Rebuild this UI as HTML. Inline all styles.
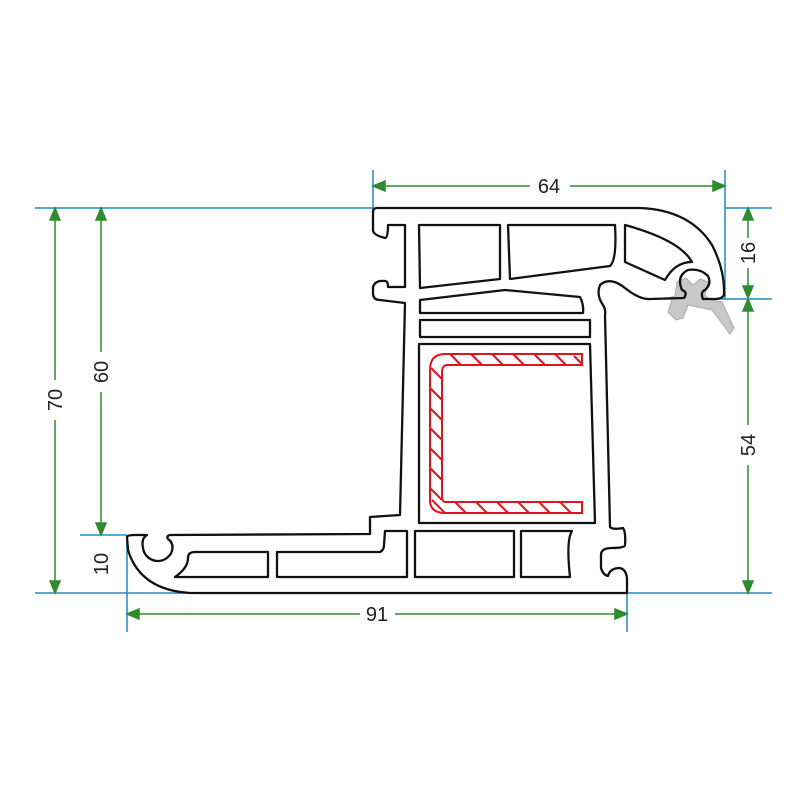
<!DOCTYPE html>
<html><head><style>body{margin:0;background:#fff}svg{display:block}text{font-family:"Liberation Sans",sans-serif;font-size:20px;fill:#222}</style></head><body>
<svg width="800" height="800" viewBox="0 0 800 800" xmlns="http://www.w3.org/2000/svg">
<g stroke="#1e8bc3" stroke-width="1.5" fill="none">
<line x1="35" y1="208" x2="373" y2="208"/><line x1="725" y1="208" x2="772" y2="208"/>
<line x1="35" y1="593" x2="190" y2="593"/><line x1="627" y1="593" x2="772" y2="593"/>
<line x1="700" y1="299" x2="772" y2="299"/><line x1="80" y1="535" x2="127" y2="535"/>
<line x1="373" y1="170" x2="373" y2="208"/><line x1="725" y1="170" x2="725" y2="300"/>
<line x1="127" y1="535" x2="127" y2="632"/><line x1="627" y1="593" x2="627" y2="632"/>
</g>
<g stroke="#2e8b2e" stroke-width="1.5" fill="#2e8b2e">
<line x1="378" y1="186" x2="530" y2="186"/><line x1="570" y1="186" x2="720" y2="186"/>
<polygon points="373,186 385,181 385,191"/><polygon points="725,186 713,181 713,191"/>
<line x1="132" y1="614" x2="360" y2="614"/><line x1="395" y1="614" x2="622" y2="614"/>
<polygon points="127,614 139,609 139,619"/><polygon points="627,614 615,609 615,619"/>
<line x1="55" y1="213" x2="55" y2="380"/><line x1="55" y1="420" x2="55" y2="588"/>
<polygon points="55,208 50,220 60,220"/><polygon points="55,593 50,581 60,581"/>
<line x1="101" y1="213" x2="101" y2="352"/><line x1="101" y1="392" x2="101" y2="530"/>
<polygon points="101,208 96,220 106,220"/><polygon points="101,535 96,523 106,523"/>
<line x1="748" y1="213" x2="748" y2="238"/><line x1="748" y1="268" x2="748" y2="293"/>
<polygon points="748,208 743,220 753,220"/><polygon points="748,298 743,286 753,286"/>
<line x1="748" y1="304" x2="748" y2="425"/><line x1="748" y1="465" x2="748" y2="588"/>
<polygon points="748,299 743,311 753,311"/><polygon points="748,593 743,581 753,581"/>
</g>
<text x="549" y="193" text-anchor="middle">64</text>
<text x="377" y="621" text-anchor="middle">91</text>
<text transform="translate(62,400) rotate(-90)" text-anchor="middle">70</text>
<text transform="translate(108,372) rotate(-90)" text-anchor="middle">60</text>
<text transform="translate(108,564) rotate(-90)" text-anchor="middle">10</text>
<text transform="translate(755,253) rotate(-90)" text-anchor="middle">16</text>
<text transform="translate(755,445) rotate(-90)" text-anchor="middle">54</text>
<path d="M677,282 L686,278 L693,285 L700,279 L708,282 L705,296 L712,300 L722,302 L734,328 L730,334 L712,310 L688,305 L683,318 L676,320 L668,312 L672,300 L668,298 L675,296 Z" fill="#c8c8c8" stroke="#aaa" stroke-width="1"/>
<g fill="none" stroke="#111" stroke-width="2.3" stroke-linejoin="round">
<path d="M377,208 L640,208 Q690,210 712,245 Q725,270 724,295 Q722,299 715,299 L703,299 Q700,292 705,290 Q712,284 708,276 Q700,268 688,270 Q676,276 682,290 Q688,292 684,298 L650,299 Q640,300 625,288 Q610,276 600,285 Q596,295 603,305 Q606,310 605,315 L610,527 Q613,530 623,528 Q626,532 625,545 Q625,548 612,548 Q601,548 601,555 L601,568 Q603,575 608,576 Q610,568 620,568 Q627,570 627,580 L627,593 L190,593 Q140,590 128,550 L127,537 Q127,535 135,535 L147,535 Q141,538 143,548 A15,15 0 0 0 172,551 Q174,543 168,539 Q166,536 170,535 L370,534 L370,517 L400,515 L405,303 L380,300 Q373,300 373,293 L373,287 Q375,280 385,281 Q388,281 388,287 L405,287 L405,225 L388,225 Q388,238 385,238 Q373,235 373,230 L373,212 Q373,208 377,208 Z"/>
<path d="M419,225 L500,225 L500,279 L420,288 Z"/>
<path d="M508,225 L615,225 Q617,260 610,266 L510,279 Z"/>
<path d="M625,225 Q680,240 692,262 Q675,262 665,280 L625,262 Z"/>
<path d="M420,300 L505,290 L580,297 Q584,305 583,313 L420,313 Z"/>
<path d="M420,320 L590,320 L590,337 L420,337 Z"/>
<path d="M419,344 L590,344 L595,523 L419,523 Z"/>
<path d="M175,577 Q188,568 188,558 Q188,552 195,552 L268,552 L268,577 Z"/>
<path d="M277,552 L380,552 Q384,550 384,545 L385,531 L407,531 L407,577 L277,577 Z"/>
<path d="M415,531 L514,531 L514,577 L415,577 Z"/>
<path d="M521,531 L572,531 Q566,540 570,577 L521,577 Z"/>
</g>
<g stroke="#e0141e" stroke-width="2" fill="none">
<path d="M582,354 L445,354 Q430,354 430,370 L430,500 Q430,513 445,513 L582,513 L582,502 L445,502 Q442,502 442,495 L442,372 Q442,365 448,365 L582,365 Z"/>
<path d="M450,354 L461,365 M471,354 L482,365 M492,354 L503,365 M513,354 L524,365 M534,354 L545,365 M555,354 L566,365 M574,356 L582,364 M431,368 L442,379 M430,388 L442,400 M430,408 L442,420 M430,428 L442,440 M430,448 L442,460 M430,468 L442,480 M430,488 L442,500 M432,500 L445,513 M455,502 L466,513 M476,502 L487,513 M497,502 L508,513 M518,502 L529,513 M539,502 L550,513 M560,502 L571,513"/>
</g>
</svg>
</body></html>
